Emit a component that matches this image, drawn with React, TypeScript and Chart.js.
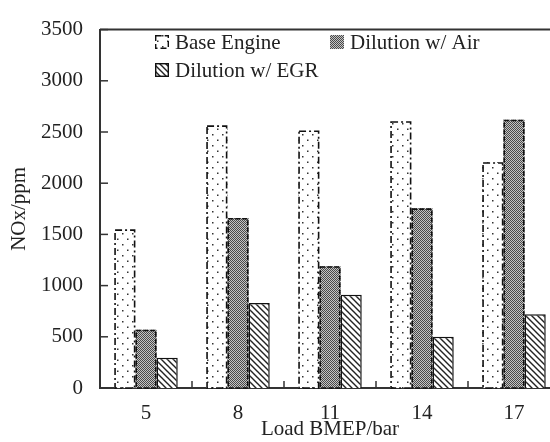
import React, { useEffect, useRef } from "react";
import { Chart, registerables } from "chart.js";

Chart.register(...registerables);

const categories = ["5", "8", "11", "14", "17"];
const baseEngine = [1550, 2565, 2515, 2605, 2205];
const dilutionAir = [570, 1660, 1190, 1755, 2620];
const dilutionEGR = [295, 830, 910, 500, 720];
const seriesLabels = ["Base Engine", "Dilution w/ Air", "Dilution w/ EGR"];
const yMin = 0;
const yMax = 3500;
const yStep = 500;

const FONT = "Liberation Serif";
const FSIZE = 21;
const TEXT = "#222";
const AXIS = "#333";

Chart.defaults.font.family = FONT;

function makeDots(): CanvasPattern | string {
  const c = document.createElement("canvas");
  c.width = 10;
  c.height = 11;
  const x = c.getContext("2d")!;
  x.fillStyle = "#fff";
  x.fillRect(0, 0, 10, 11);
  x.fillStyle = "#333";
  x.fillRect(2, 2, 1.5, 1.5);
  x.fillRect(7, 7.5, 1.5, 1.5);
  return x.createPattern(c, "repeat") || "#fff";
}

function makeChecker(): CanvasPattern | string {
  const c = document.createElement("canvas");
  c.width = 2;
  c.height = 2;
  const x = c.getContext("2d")!;
  x.fillStyle = "#c4c4c4";
  x.fillRect(0, 0, 2, 2);
  x.fillStyle = "#4a4a4a";
  x.fillRect(0, 0, 1, 1);
  x.fillRect(1, 1, 1, 1);
  return x.createPattern(c, "repeat") || "#777";
}

function makeHatch(): CanvasPattern | string {
  const s = 6;
  const c = document.createElement("canvas");
  c.width = s;
  c.height = s;
  const x = c.getContext("2d")!;
  x.fillStyle = "#fff";
  x.fillRect(0, 0, s, s);
  x.strokeStyle = "#222";
  x.lineWidth = 1.4;
  x.beginPath();
  x.moveTo(-1, -1);
  x.lineTo(s + 1, s + 1);
  x.moveTo(-s - 1, -1);
  x.lineTo(1, s + 1);
  x.moveTo(s - 1, -1);
  x.lineTo(2 * s + 1, s + 1);
  x.stroke();
  return x.createPattern(c, "repeat") || "#fff";
}

export default function App() {
  const ref = useRef<HTMLCanvasElement | null>(null);

  useEffect(() => {
    const canvas = ref.current;
    if (!canvas) return;
    const dots = makeDots();
    const checker = makeChecker();
    const hatch = makeHatch();
    const fills = [dots, checker, hatch];

    const decor = {
      id: "decor",
      afterDatasetsDraw(chart: any) {
        const ctx = chart.ctx;
        const dashes = [[7, 3, 2, 3], [5, 2]];
        [0, 1].forEach((di) => {
          const meta = chart.getDatasetMeta(di);
          meta.data.forEach((el: any) => {
            const p = el.getProps(["x", "y", "base", "width"], true);
            const l = p.x - p.width / 2;
            ctx.save();
            ctx.strokeStyle = "#111";
            ctx.lineWidth = 1.6;
            ctx.setLineDash(dashes[di]);
            ctx.strokeRect(l + 0.8, p.y + 0.8, p.width - 1.6, p.base - p.y - 0.8);
            ctx.restore();
          });
        });
      },
      afterDraw(chart: any) {
        const ctx = chart.ctx;
        const ca = chart.chartArea;
        const ys = chart.scales.y;
        const xs = chart.scales.x;
        ctx.save();
        ctx.strokeStyle = AXIS;
        ctx.lineWidth = 2;
        ctx.setLineDash([]);
        ctx.beginPath();
        ctx.moveTo(ca.left, ca.top);
        ctx.lineTo(chart.width, ca.top);
        ctx.stroke();
        ctx.lineWidth = 1.5;
        ys.ticks.forEach((t: any) => {
          const py = ys.getPixelForValue(t.value);
          ctx.beginPath();
          ctx.moveTo(ca.left, py);
          ctx.lineTo(ca.left + 8, py);
          ctx.stroke();
        });
        for (let i = 1; i < categories.length; i++) {
          const px = (xs.getPixelForValue(i - 1) + xs.getPixelForValue(i)) / 2;
          ctx.beginPath();
          ctx.moveTo(px, ca.bottom);
          ctx.lineTo(px, ca.bottom - 7);
          ctx.stroke();
        }
        const items = [
          { x: 155, y: 35 },
          { x: 330, y: 35 },
          { x: 155, y: 63 },
        ];
        ctx.font = `normal ${FSIZE}px ${FONT}`;
        ctx.textBaseline = "middle";
        ctx.textAlign = "left";
        items.forEach((it, i) => {
          const b = 14;
          ctx.fillStyle = fills[i] as any;
          ctx.fillRect(it.x, it.y, b, b);
          ctx.strokeStyle = "#111";
          ctx.lineWidth = 1.4;
          if (i === 0) ctx.setLineDash([6, 3]);
          else ctx.setLineDash([]);
          if (i !== 1) ctx.strokeRect(it.x + 0.7, it.y + 0.7, b - 1.4, b - 1.4);
          ctx.setLineDash([]);
          ctx.fillStyle = TEXT;
          ctx.fillText(seriesLabels[i], it.x + 20, it.y + b / 2 + 1);
        });
        ctx.restore();
      },
    };

    const chart = new Chart(canvas, {
      type: "bar",
      data: {
        labels: categories,
        datasets: [
          { label: seriesLabels[0], data: baseEngine, backgroundColor: dots as any, borderWidth: 0 },
          { label: seriesLabels[1], data: dilutionAir, backgroundColor: checker as any, borderWidth: 0 },
          {
            label: seriesLabels[2],
            data: dilutionEGR,
            backgroundColor: hatch as any,
            borderColor: "#111",
            borderWidth: 1.5,
          },
        ],
      },
      options: {
        responsive: false,
        animation: false,
        devicePixelRatio: 1,
        layout: { padding: { left: 0, top: 21, right: 10, bottom: 0 } },
        datasets: { bar: { categoryPercentage: 0.69, barPercentage: 1 } },
        plugins: {
          legend: { display: false },
          tooltip: { enabled: false },
        },
        scales: {
          x: {
            grid: { display: false, drawTicks: false },
            border: { display: true, color: AXIS, width: 2 },
            ticks: { font: { family: FONT, size: FSIZE }, color: TEXT, padding: 13 },
            title: {
              display: true,
              text: "Load BMEP/bar",
              font: { family: FONT, size: FSIZE },
              color: TEXT,
              padding: { top: 0, bottom: 0 },
            },
            afterFit: (s: any) => {
              s.height = 54;
            },
          },
          y: {
            min: yMin,
            max: yMax,
            grid: { display: false, drawTicks: false },
            border: { display: true, color: AXIS, width: 2 },
            ticks: {
              stepSize: yStep,
              font: { family: FONT, size: FSIZE },
              color: TEXT,
              padding: 17,
              callback: (v: any) => String(v),
            },
            title: {
              display: true,
              text: "NOx/ppm",
              font: { family: FONT, size: FSIZE },
              color: TEXT,
              padding: { top: 7, bottom: 0 },
            },
            afterFit: (s: any) => {
              s.width = 100;
            },
          },
        },
      },
      plugins: [decor],
    });
    return () => chart.destroy();
  }, []);

  return (
    <div style={{ position: "absolute", left: 0, top: 0, width: 550, height: 442, overflow: "hidden", background: "#fff" }}>
      <canvas ref={ref} width={570} height={442} style={{ width: 570, height: 442, display: "block" }} />
    </div>
  );
}
